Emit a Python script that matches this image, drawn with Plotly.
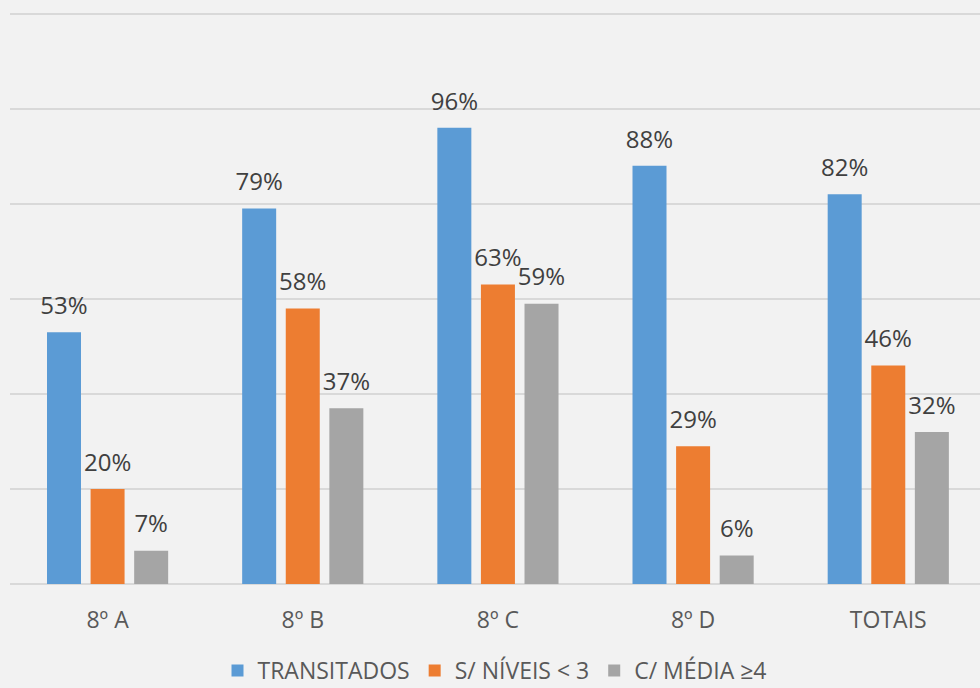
import plotly.graph_objects as go

# turmas / categorias
turmas = ['8º A', '8º B', '8º C', '8º D', 'TOTAIS']

# percentagens
transitados = [53, 79, 96, 88, 82]
niveis_menor_3 = [20, 58, 63, 29, 46]
media_maior_4 = [7, 37, 59, 6, 32]

series_names = ['TRANSITADOS', 'S/ NÍVEIS < 3', 'C/ MÉDIA ≥4']
series_colors = ['#5B9BD5', '#ED7D31', '#A5A5A5']
all_series = [transitados, niveis_menor_3, media_maior_4]

fig = go.Figure()

for name, vals, color in zip(series_names, all_series, series_colors):
    fig.add_trace(go.Bar(
        x=turmas,
        y=[v / 100 for v in vals],
        name=name,
        marker_color=color,
        marker_line_width=0,
        hoverinfo='skip',
    ))

# rotulos de dados (scatter agrupado como as barras)
for name, vals in zip(series_names, all_series):
    fig.add_trace(go.Scatter(
        x=turmas,
        y=[v / 100 for v in vals],
        mode='markers+text',
        text=[f"{v}%" for v in vals],
        textposition='top center',
        textfont=dict(size=24, color='#404040'),
        marker=dict(size=18, color='rgba(0,0,0,0)'),
        showlegend=False,
        hoverinfo='skip',
        cliponaxis=False,
    ))

fig.update_layout(
    width=980,
    height=688,
    barmode='group',
    bargap=0.33,
    bargroupgap=0.22,
    scattermode='group',
    scattergap=0.33,
    paper_bgcolor='#F2F2F2',
    plot_bgcolor='#F2F2F2',
    font=dict(family='Open Sans', color='#595959'),
    margin=dict(l=10, r=0, t=9, b=104, autoexpand=False),
    showlegend=True,
    legend=dict(
        orientation='h',
        x=0.5,
        xanchor='center',
        y=-0.113,
        yanchor='top',
        font=dict(size=23, color='#595959'),
        bgcolor='rgba(0,0,0,0)',
    ),
)

# Set x-axis
fig.update_xaxes(
    range=[-0.5, 4.47],
    showgrid=False,
    showline=False,
    ticks='',
    tickfont=dict(size=23, color='#595959'),
    ticklabelstandoff=20,
)

# Set y-axis
fig.update_yaxes(
    range=[0, 1.21],
    dtick=0.2,
    showticklabels=False,
    gridcolor='#D9D9D9',
    gridwidth=2,
    zeroline=True,
    zerolinecolor='#D9D9D9',
    zerolinewidth=2,
)

fig.write_html("out.html", config={'displayModeBar': False},
               post_script="document.body.style.margin='0';")
